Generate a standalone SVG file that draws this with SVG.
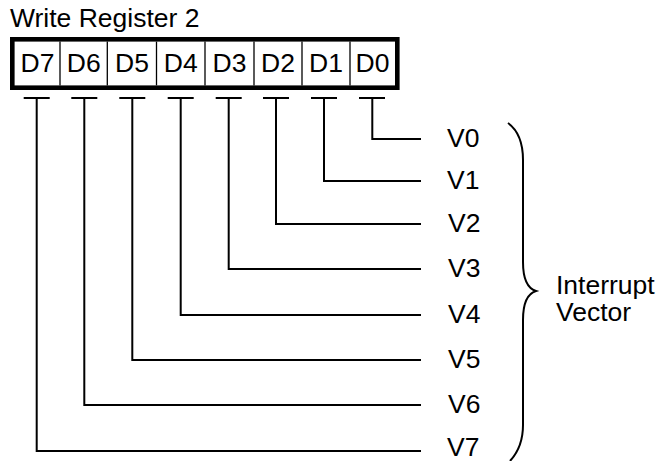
<svg xmlns="http://www.w3.org/2000/svg" width="657" height="461" viewBox="0 0 657 461">
<style>
text{font-family:"Liberation Sans",Arial,sans-serif;font-size:26.5px;fill:#000}
.c{text-anchor:middle}
.w{fill:none;stroke:#000;stroke-width:2}
.box{fill:#fff;stroke:#000;stroke-width:4.6}
.div{stroke:#000;stroke-width:1.3}
</style>
<rect width="657" height="461" fill="#fff"/>
<text x="10" y="27">Write Register 2</text>
<g id="register">
<rect class="box" x="12.3" y="39.3" width="385" height="48.4"/>
<line class="div" x1="60" y1="41.6" x2="60" y2="85.4"/>
<line class="div" x1="107.3" y1="41.6" x2="107.3" y2="85.4"/>
<line class="div" x1="156.5" y1="41.6" x2="156.5" y2="85.4"/>
<line class="div" x1="205" y1="41.6" x2="205" y2="85.4"/>
<line class="div" x1="254" y1="41.6" x2="254" y2="85.4"/>
<line class="div" x1="302" y1="41.6" x2="302" y2="85.4"/>
<line class="div" x1="350" y1="41.6" x2="350" y2="85.4"/>
<text class="c" x="37.5" y="72">D7</text>
<text class="c" x="83.8" y="72">D6</text>
<text class="c" x="132" y="72">D5</text>
<text class="c" x="180.7" y="72">D4</text>
<text class="c" x="229.5" y="72">D3</text>
<text class="c" x="278" y="72">D2</text>
<text class="c" x="326" y="72">D1</text>
<text class="c" x="372.5" y="72">D0</text>
</g>
<g id="connectors">
<path class="w" d="M359,98H385M372.3,98V139H421"/>
<path class="w" d="M311,98H337M324,98V181H421"/>
<path class="w" d="M263,98H289M276,98V224H421"/>
<path class="w" d="M215.7,98H241.7M228.7,98V269H421"/>
<path class="w" d="M167.7,98H193.7M180.7,98V315H421"/>
<path class="w" d="M119.3,98H145.3M132.3,98V360H421"/>
<path class="w" d="M71.3,98H97.3M84.3,98V405H421"/>
<path class="w" d="M23.7,98H49.7M36.7,98V451H421"/>
</g>
<g id="labels">
<text x="447" y="147">V0</text>
<text x="447" y="189">V1</text>
<text x="448" y="232">V2</text>
<text x="448" y="277">V3</text>
<text x="448" y="323">V4</text>
<text x="448" y="368">V5</text>
<text x="448" y="413">V6</text>
<text x="447" y="455.5">V7</text>
</g>
<g id="brace">
<path class="w" d="M508,123Q523,134 523,160L523,262Q523,287 536,291Q523,295 523,320L523,425Q523,447 510,461"/>
<text x="556" y="294">Interrupt</text>
<text x="556" y="321">Vector</text>
</g>
</svg>
